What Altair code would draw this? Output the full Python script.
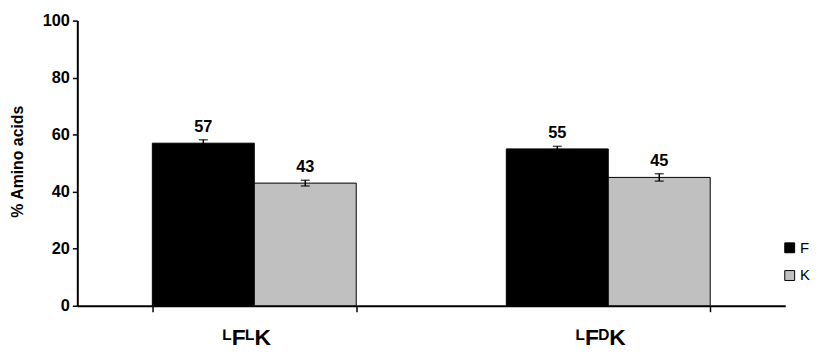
import altair as alt
import pandas as pd

categories = ["ᴸFᴸK", "ᴸFᴰK"]
series = ["F", "K"]
f_values = [57, 55]
k_values = [43, 45]
f_errors = [1.2, 0.9]
k_errors = [1.0, 1.3]
colors = ["#000000", "#c0c0c0"]

rows = []
for i, c in enumerate(categories):
    for s, vals, errs in (("F", f_values, f_errors), ("K", k_values, k_errors)):
        v = vals[i]
        e = errs[i]
        rows.append({"cat": c, "series": s, "value": v, "lo": v - e, "hi": v + e,
                     "label": str(v)})
df = pd.DataFrame(rows)

FONT = "Liberation Sans"

x_enc = alt.X(
    "cat:N", sort=categories, title=None,
    scale=alt.Scale(paddingInner=0.424, paddingOuter=0.212),
    axis=alt.Axis(labelAngle=0, tickBand="extent", labelFont=FONT, labelFontSize=23,
                  labelFontWeight="bold", labelColor="black", labelPadding=15,
                  labelOffset=-8,
                  tickColor="black", tickSize=6, tickWidth=1.5,
                  domainColor="black", domainWidth=2),
)
xoff = alt.XOffset("series:N", sort=series)

base = alt.Chart(df).encode(x=x_enc, xOffset=xoff)

bars = base.mark_bar(stroke="black", strokeWidth=1).encode(
    y=alt.Y("value:Q", scale=alt.Scale(domain=[0, 100]),
            axis=alt.Axis(values=[0, 20, 40, 60, 80, 100], grid=False,
                          title="% Amino acids", titleFont=FONT, titleFontSize=16,
                          titleFontWeight="bold", titleColor="black",
                          titleX=-60, titleY=142, titleAlign="center",
                          titleBaseline="middle", titleAngle=-90,
                          labelFont=FONT, labelFontSize=16.5, labelFontWeight="bold",
                          labelColor="black", labelPadding=3,
                          tickColor="black", tickSize=5, tickWidth=1.5,
                          domainColor="black", domainWidth=2)),
    color=alt.Color("series:N", sort=series,
                    scale=alt.Scale(domain=series, range=colors),
                    legend=alt.Legend(title=None, orient="none", legendX=712, legendY=222,
                                      padding=0, offset=0,
                                      symbolType="square", symbolSize=100,
                                      symbolStrokeColor="black", symbolStrokeWidth=1,
                                      labelFont=FONT, labelFontSize=15, labelColor="black",
                                      labelOffset=3, rowPadding=12)),
)

err = base.mark_rule(color="black", strokeWidth=1.5).encode(y="lo:Q", y2="hi:Q")
cap_lo = base.mark_tick(color="black", thickness=1.5, size=9, orient="horizontal").encode(y="lo:Q")
cap_hi = base.mark_tick(color="black", thickness=1.5, size=9, orient="horizontal").encode(y="hi:Q")

text = base.mark_text(font=FONT, fontSize=16.5, fontWeight="bold", color="black",
                      baseline="alphabetic", dy=-8).encode(y="hi:Q", text="label:N")

chart = alt.layer(bars, err, cap_lo, cap_hi, text).properties(
    width=715, height=288,
    autosize=alt.AutoSizeParams(type="none"),
    padding={"left": 70, "top": 11, "right": 25, "bottom": 43},
).configure_view(stroke=None).configure_axis(grid=False)

chart.save("out.html", embed_options={"renderer": "svg", "actions": False})
